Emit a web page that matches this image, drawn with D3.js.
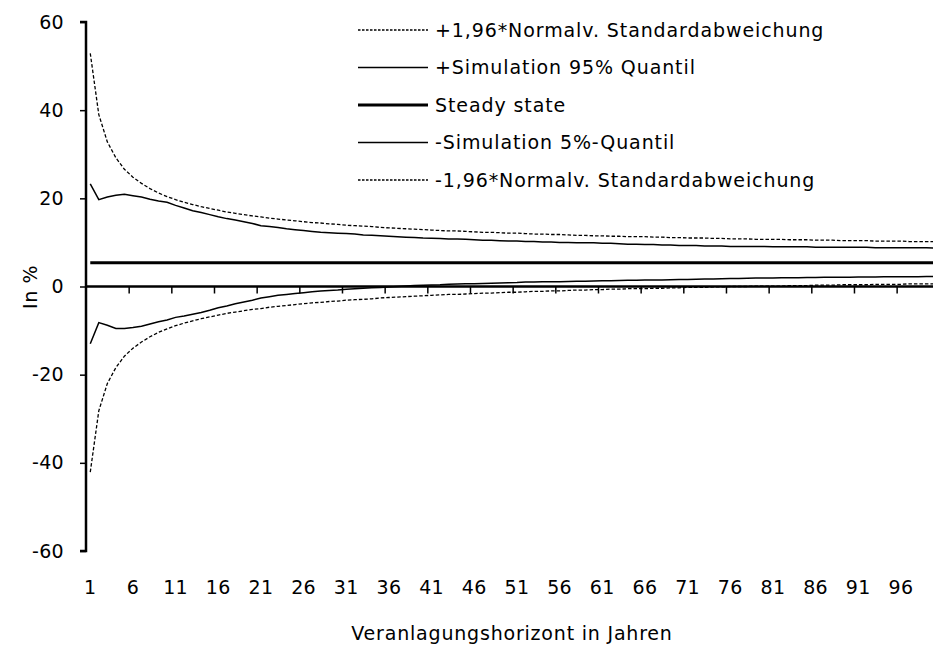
<!DOCTYPE html>
<html>
<head>
<meta charset="utf-8">
<script src="https://cdn.jsdelivr.net/npm/d3@7"></script>
<style>
  body { margin: 0; background: #fff; }
  svg { display: block; font-family: "DejaVu Sans", sans-serif; }
</style>
</head>
<body>
<div class="chart"></div>
<script>
// Data
const years = d3.range(1, 101);
const tickLabelYears = [1, 6, 11, 16, 21, 26, 31, 36, 41, 46, 51, 56, 61, 66, 71, 76, 81, 86, 91, 96];
const yTicks = [-60, -40, -20, 0, 20, 40, 60];

const steadyState = 5.4;

const upperNormal = [
  52.9, 39.0, 32.8, 29.2, 26.6, 24.8, 23.4, 22.2, 21.2, 20.4,
  19.7, 19.1, 18.6, 18.1, 17.7, 17.3, 16.9, 16.6, 16.3, 16.0,
  15.8, 15.5, 15.3, 15.1, 14.9, 14.7, 14.5, 14.4, 14.2, 14.1,
  13.9, 13.8, 13.7, 13.6, 13.4, 13.3, 13.2, 13.1, 13.0, 12.9,
  12.8, 12.7, 12.6, 12.6, 12.5, 12.4, 12.3, 12.3, 12.2, 12.1,
  12.1, 12.0, 11.9, 11.9, 11.8, 11.8, 11.7, 11.6, 11.6, 11.5,
  11.5, 11.4, 11.4, 11.3, 11.3, 11.3, 11.2, 11.2, 11.1, 11.1,
  11.0, 11.0, 11.0, 10.9, 10.9, 10.8, 10.8, 10.8, 10.7, 10.7,
  10.7, 10.7, 10.6, 10.6, 10.6, 10.5, 10.5, 10.5, 10.4, 10.4,
  10.4, 10.4, 10.3, 10.3, 10.3, 10.3, 10.2, 10.2, 10.2, 10.2
];

const upperSim = [
  23.3, 19.7, 20.3, 20.7, 20.9, 20.6, 20.3, 19.8, 19.4, 19.1,
  18.4, 17.8, 17.2, 16.8, 16.3, 15.8, 15.4, 15.1, 14.7, 14.3,
  13.8, 13.6, 13.4, 13.1, 12.9, 12.7, 12.5, 12.3, 12.2, 12.1,
  12.0, 11.9, 11.7, 11.6, 11.5, 11.4, 11.3, 11.2, 11.1, 11.0,
  10.95, 10.9, 10.8, 10.8, 10.7, 10.6, 10.5, 10.5, 10.4, 10.3,
  10.3, 10.2, 10.2, 10.1, 10.1, 10.0, 10.0, 9.9, 9.9, 9.9,
  9.8, 9.8, 9.7, 9.6, 9.6, 9.5, 9.5, 9.4, 9.4, 9.3,
  9.3, 9.3, 9.2, 9.2, 9.2, 9.1, 9.1, 9.1, 9.1, 9.1,
  9.0, 9.0, 9.0, 9.0, 9.0, 8.9, 8.9, 8.9, 8.9, 8.9,
  8.9, 8.9, 8.8, 8.8, 8.8, 8.8, 8.8, 8.8, 8.8, 8.7
];

const lowerSim = [
  -13.0, -8.2, -8.8, -9.5, -9.5, -9.3, -9.0, -8.5, -8.0, -7.6,
  -7.0, -6.7, -6.3, -5.9, -5.4, -4.8, -4.4, -3.9, -3.5, -3.1,
  -2.6, -2.3, -2.0, -1.8, -1.6, -1.4, -1.2, -1.0, -0.9, -0.8,
  -0.6, -0.5, -0.4, -0.3, -0.2, -0.1, 0.0, 0.1, 0.2, 0.3,
  0.35, 0.4, 0.5, 0.55, 0.6, 0.65, 0.7, 0.75, 0.8, 0.85,
  0.9, 1.0, 1.0, 1.05, 1.1, 1.1, 1.15, 1.2, 1.2, 1.25,
  1.3, 1.3, 1.35, 1.4, 1.4, 1.45, 1.5, 1.5, 1.55, 1.6,
  1.6, 1.65, 1.7, 1.7, 1.75, 1.8, 1.8, 1.85, 1.9, 1.9,
  1.95, 2.0, 2.0, 2.0, 2.05, 2.05, 2.1, 2.1, 2.1, 2.1,
  2.15, 2.15, 2.15, 2.2, 2.2, 2.2, 2.2, 2.2, 2.25, 2.25
];

const lowerNormal = [
  -42.1, -28.2, -22.0, -18.4, -15.8, -14.0, -12.6, -11.4, -10.4, -9.6,
  -8.9, -8.3, -7.8, -7.3, -6.9, -6.5, -6.1, -5.8, -5.5, -5.2,
  -5.0, -4.7, -4.5, -4.3, -4.1, -3.9, -3.7, -3.6, -3.4, -3.3,
  -3.1, -3.0, -2.9, -2.8, -2.6, -2.5, -2.4, -2.3, -2.2, -2.1,
  -2.0, -1.9, -1.8, -1.8, -1.7, -1.6, -1.5, -1.5, -1.4, -1.3,
  -1.3, -1.2, -1.1, -1.1, -1.0, -1.0, -0.9, -0.8, -0.8, -0.7,
  -0.7, -0.6, -0.6, -0.5, -0.5, -0.5, -0.4, -0.4, -0.3, -0.3,
  -0.2, -0.2, -0.2, -0.1, -0.1, 0.0, 0.0, 0.0, 0.1, 0.1,
  0.1, 0.1, 0.2, 0.2, 0.2, 0.3, 0.3, 0.3, 0.4, 0.4,
  0.4, 0.4, 0.5, 0.5, 0.5, 0.5, 0.6, 0.6, 0.6, 0.6
];

const legendLabels = [
  "+1,96*Normalv. Standardabweichung",
  "+Simulation 95% Quantil",
  "Steady state",
  "-Simulation 5%-Quantil",
  "-1,96*Normalv. Standardabweichung"
];

// Layout
const width = 933;
const height = 646;
const plotLeft = 86, plotRight = 939.3, plotTop = 22, plotBottom = 551;

const svg = d3.select(".chart").append("svg")
  .attr("width", width)
  .attr("height", height);

// Scales
const xBand = d3.scaleBand().domain(years).range([plotLeft, plotRight]).padding(0);
const xCenter = d => xBand(d) + xBand.bandwidth() / 2;
const xEdge = d3.scaleLinear().domain([0, years.length]).range([plotLeft, plotRight]);
const yScale = d3.scaleLinear().domain([-60, 60]).range([plotBottom, plotTop]);

// Lines
const line = d3.line()
  .x((d, i) => xCenter(years[i]))
  .y(d => yScale(d));

const series = [
  {values: upperNormal, width: 1.3, dash: "3.5,2"},
  {values: upperSim, width: 1.5, dash: null},
  {values: years.map(() => steadyState), width: 3, dash: null},
  {values: lowerSim, width: 1.5, dash: null},
  {values: lowerNormal, width: 1.3, dash: "3.5,2"}
];

svg.append("g").selectAll("path")
  .data(series)
  .enter().append("path")
  .attr("fill", "none")
  .attr("stroke", "#000")
  .attr("stroke-width", d => d.width)
  .attr("stroke-dasharray", d => d.dash)
  .attr("d", d => line(d.values));

// Y axis
const yAxis = d3.axisLeft(yScale).tickValues(yTicks).tickSize(6).tickPadding(16)
  .tickFormat(d => String(d));
const gY = svg.append("g")
  .attr("transform", `translate(${plotLeft},0)`)
  .call(yAxis);
gY.select(".domain").attr("stroke-width", 2.5).attr("d", `M-6,${plotTop}H0V${plotBottom}H-6`);
gY.selectAll(".tick line").attr("stroke-width", 1.5);
gY.selectAll(".tick text").attr("font-size", 19).attr("font-family", "DejaVu Sans")
  .attr("letter-spacing", "0.3px").attr("fill", "#000");

// X axis at zero with tick marks between categories
const xAxisTicks = d3.axisBottom(xEdge)
  .tickValues(d3.range(5, years.length, 5))
  .tickSize(7)
  .tickFormat("");
const gX = svg.append("g")
  .attr("transform", `translate(0,${yScale(0)})`)
  .call(xAxisTicks);
gX.select(".domain").attr("stroke-width", 2.5).attr("d", `M${plotLeft},0H${plotRight}`);
gX.selectAll(".tick line").attr("stroke-width", 1.5);

// X tick labels at the bottom
const xLabels = d3.axisBottom(xBand).tickValues(tickLabelYears).tickSize(0).tickPadding(0);
const gXL = svg.append("g")
  .attr("transform", `translate(0,580)`)
  .call(xLabels);
gXL.select(".domain").remove();
gXL.selectAll(".tick text").attr("font-size", 19).attr("font-family", "DejaVu Sans")
  .attr("letter-spacing", "0.3px").attr("fill", "#000");

// Axis titles
svg.append("text")
  .attr("x", 512)
  .attr("y", 640)
  .attr("text-anchor", "middle")
  .attr("font-size", 19)
  .attr("letter-spacing", "0.8px")
  .text("Veranlagungshorizont in Jahren");

svg.append("text")
  .attr("transform", `translate(37,287) rotate(-90)`)
  .attr("text-anchor", "middle")
  .attr("font-size", 19)
  .attr("letter-spacing", "0.6px")
  .text("In %");

// Legend
const legend = svg.append("g").selectAll("g")
  .data(series)
  .enter().append("g")
  .attr("transform", (d, i) => `translate(358,${30 + i * 37.5})`);
legend.append("line")
  .attr("x1", 0).attr("x2", 70)
  .attr("stroke", "#000")
  .attr("stroke-width", d => d.width)
  .attr("stroke-dasharray", d => d.dash ? "2.5,1.5" : null);
legend.append("text")
  .attr("x", 77)
  .attr("dy", "0.35em")
  .attr("font-size", 19)
  .attr("letter-spacing", "0.9px")
  .text((d, i) => legendLabels[i]);
</script>
</body>
</html>
